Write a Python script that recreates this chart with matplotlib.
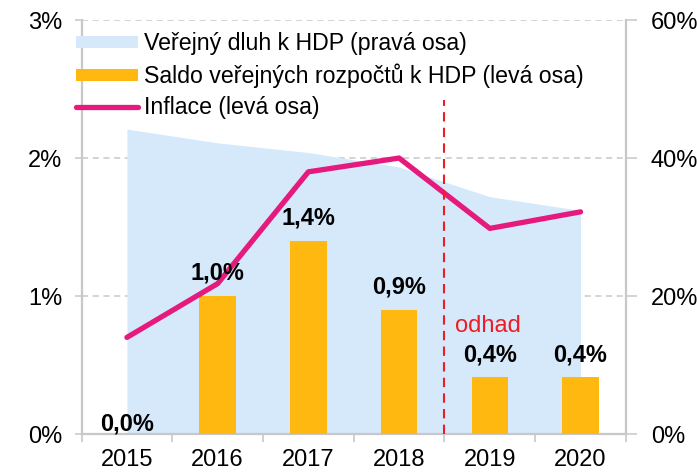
import matplotlib.pyplot as plt
import matplotlib as mpl
import numpy as np
from matplotlib.patches import Patch
from matplotlib.lines import Line2D

years = ['2015', '2016', '2017', '2018', '2019', '2020']
saldo = [0.0, 1.0, 1.4, 0.9, 0.41, 0.41]           # left axis, %
saldo_labels = ['0,0%', '1,0%', '1,4%', '0,9%', '0,4%', '0,4%']
inflace = [0.70, 1.09, 1.90, 2.00, 1.49, 1.61]      # left axis, %
dluh = [44.2, 42.2, 40.8, 38.7, 34.4, 32.4]         # right axis, %
left_ticks = [0, 1, 2, 3]
right_ticks = [0, 20, 40, 60]

plt.rcParams['font.family'] = ['Liberation Sans', 'DejaVu Sans']
FS = 17
FS_LEG = 16.7

C_DEBT = '#d5e9fb'
C_BAR = '#ffb80f'
C_LINE = '#e6197d'
C_AXIS = '#c8c8c8'

fig = plt.figure(figsize=(6.97, 4.72), dpi=100)
ax = fig.add_axes([0.117, 0.0805, 0.781, 0.877])
ax2 = ax.twinx()
ax.set_zorder(ax2.get_zorder() + 1)
ax.patch.set_visible(False)

x = np.arange(len(years))

# debt area on the right axis (behind everything)
ax2.fill_between(x, 0, dluh, color=C_DEBT, linewidth=0, zorder=1)
ax2.set_ylim(0, 60)
ax2.set_yticks(right_ticks)
ax2.set_yticklabels(['%d%%' % v for v in right_ticks], fontsize=FS)
ax2.yaxis.grid(True, color=C_AXIS, linestyle=(0, (4, 3)), linewidth=1.1, zorder=0)
ax2.set_axisbelow(True)

# bars + inflation on the left axis
ax.bar(x, saldo, width=0.4, color=C_BAR, zorder=2)
ax.plot(x, inflace, color=C_LINE, linewidth=3.8, solid_capstyle='round', zorder=3)
for xi, v, lab in zip(x, saldo, saldo_labels):
    off = 8 if v > 0 else -1
    ax.annotate(lab, (xi, v), xytext=(0, off), textcoords='offset points',
                ha='center', va='bottom', fontsize=FS, fontweight='bold')

ax.vlines(3.5, 0, 2.42, colors='#ee1c25', linestyles=(0, (4.5, 3)), linewidth=1.5, zorder=4)
ax.text(3.62, 0.78, 'odhad', color='#ee1c25', fontsize=FS, ha='left', va='center')

ax.set_xlim(-0.5, len(years) - 0.5)
ax.set_ylim(0, 3)
ax.set_yticks(left_ticks)
ax.set_yticklabels(['%d%%' % v for v in left_ticks], fontsize=FS)
ax.set_xticks(x)
ax.set_xticklabels(years, fontsize=FS)
ax.set_xticks(np.arange(-0.5, len(years)), minor=True)
ax.tick_params(axis='x', which='major', length=0, pad=11)
ax.tick_params(axis='x', which='minor', length=6, width=1.2, color=C_AXIS)
ax.tick_params(axis='y', length=5, width=1.1, color=C_AXIS, pad=9)
ax2.tick_params(axis='y', length=8, width=1.1, color=C_AXIS, pad=10)

for a in (ax, ax2):
    for s in a.spines.values():
        s.set_visible(False)
for k in ('left', 'right', 'bottom'):
    ax2.spines[k].set_visible(True)
    ax2.spines[k].set_color(C_AXIS)
    ax2.spines[k].set_linewidth(1.6)

handles = [Patch(facecolor=C_DEBT, edgecolor='none'),
           Patch(facecolor=C_BAR, edgecolor='none'),
           Line2D([], [], color=C_LINE, linewidth=3.8, solid_capstyle='round')]
labels = ['Veřejný dluh k HDP (pravá osa)',
          'Saldo veřejných rozpočtů k HDP (levá osa)',
          'Inflace (levá osa)']
leg = ax.legend(handles, labels, loc='upper left', frameon=False, fontsize=FS_LEG,
                handlelength=2.67, handleheight=0.45, handletextpad=0.26,
                labelspacing=0.36, borderaxespad=0.0, bbox_to_anchor=(-0.028, 0.993))

fig.savefig('out.png', dpi=100)
